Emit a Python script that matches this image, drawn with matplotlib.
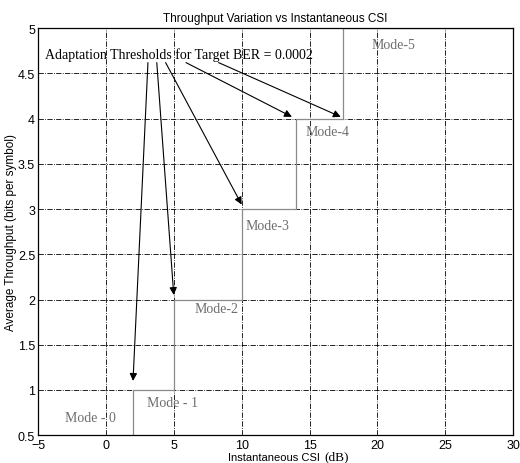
import numpy as np
import matplotlib.pyplot as plt

# ── data ──────────────────────────────────────────────────────────────────────
thresholds = [-5, 2, 5, 10, 14, 17.5, 30]      # switching points (dB)
throughput = [0, 1, 2, 3, 4, 5, 5]              # bits per symbol after each switch
mode_labels = ['Mode - 0', 'Mode - 1', 'Mode-2', 'Mode-3', 'Mode-4', 'Mode-5']
mode_pos = [(-3.0, 0.69), (3.0, 0.86), (6.5, 1.9), (10.3, 2.82), (14.7, 3.86), (19.6, 4.82)]

# arrows: (tail x, tail y) -> (head x, head y)
arrow_tails = [(3.1, 4.62), (3.75, 4.62), (4.4, 4.62), (5.9, 4.62), (8.3, 4.62)]
arrow_heads = [(2.0, 1.1), (5.0, 2.05), (10.0, 3.05), (13.7, 4.02), (17.3, 4.02)]

serif = ['Liberation Serif', 'DejaVu Serif']
sans = ['Liberation Sans', 'DejaVu Sans']

fig = plt.figure(figsize=(5.2, 4.64), dpi=100)
ax = fig.add_axes([0.073, 0.060, 0.914, 0.877])

ax.step(thresholds, throughput, where='post', color='#8a8a8a', lw=0.9)

for (tx, ty), (hx, hy) in zip(arrow_tails, arrow_heads):
    ax.annotate('', xy=(hx, hy), xytext=(tx, ty),
                arrowprops=dict(arrowstyle='-|>', color='black', lw=0.8,
                                mutation_scale=11, shrinkA=0, shrinkB=0))

ax.text(-4.5, 4.71, 'Adaptation Thresholds for Target BER = 0.0002',
        family=serif, fontsize=10, va='center', ha='left')

for lab, (x, y) in zip(mode_labels, mode_pos):
    ax.text(x, y, lab, family=serif, fontsize=10, color='#6e6e6e',
            ha='left', va='center')

ax.set_xlim(-5, 30)
ax.set_ylim(0.5, 5)
ax.set_xticks(np.arange(-5, 31, 5))
ax.set_yticks(np.arange(0.5, 5.01, 0.5))
ax.set_yticklabels(['0.5', '1', '1.5', '2', '2.5', '3', '3.5', '4', '4.5', '5'])
ax.tick_params(direction='in', length=0, labelsize=9, pad=2)
ax.tick_params(axis='x', pad=3)
for lab in ax.get_xticklabels() + ax.get_yticklabels():
    lab.set_family(sans)
ax.grid(True, color='black', ls='-.', lw=0.6)
for sp in ax.spines.values():
    sp.set_linewidth(0.9)

ax.set_title('Throughput Variation vs Instantaneous CSI', family=sans, fontsize=8.5, pad=5)
ax.set_ylabel('Average Throughput (bits per symbol)', family=sans, fontsize=8.5, labelpad=1)
fig.text(0.527, 0.003, 'Instantaneous CSI', family=sans, fontsize=8, ha='center', va='bottom')
fig.text(0.648, 0.001, '(dB)', family=serif, fontsize=9.5, ha='center', va='bottom')

fig.savefig('out.png', dpi=100)
